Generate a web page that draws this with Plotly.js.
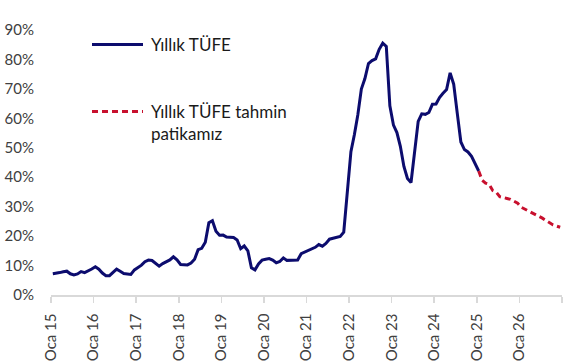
<!DOCTYPE html>
<html>
<head>
<meta charset="utf-8">
<script src="https://cdn.plot.ly/plotly-3.0.1.min.js"></script>
<style>html,body{margin:0;padding:0;background:#fff;}#chart{width:574px;height:363px;}</style>
</head>
<body>
<div id="chart"></div>
<script>
// Yıllık TÜFE (%), aylık: Oca 2015 – Oca 2025
const actualStart = [2015, 1];
const actualValues = [
  7.24, 7.55, 7.61, 7.91, 8.09, 7.20, 6.81, 7.14, 7.95, 7.58, 8.10, 8.81,
  9.58, 8.78, 7.46, 6.57, 6.58, 7.64, 8.79, 8.05, 7.28, 7.16, 7.00, 8.53,
  9.22, 10.13, 11.29, 11.87, 11.72, 10.90, 9.79, 10.68, 11.20, 11.90, 12.98, 11.92,
  10.35, 10.26, 10.23, 10.85, 12.15, 15.39, 15.85, 17.90, 24.52, 25.24, 21.62, 20.30,
  20.35, 19.67, 19.71, 19.50, 18.71, 15.72, 16.65, 15.01, 9.26, 8.55, 10.56, 11.84,
  12.15, 12.37, 11.86, 10.94, 11.39, 12.62, 11.76, 11.77, 11.75, 11.89, 14.03, 14.60,
  14.97, 15.61, 16.19, 17.14, 16.59, 17.53, 18.95, 19.25, 19.58, 19.89, 21.31, 36.08,
  48.69, 54.44, 61.14, 69.97, 73.50, 78.62, 79.60, 80.21, 83.45, 85.51, 84.39, 64.27,
  57.68, 55.18, 50.51, 43.68, 39.59, 38.21, 47.83, 58.94, 61.53, 61.36, 61.98, 64.77,
  64.86, 67.07, 68.50, 69.80, 75.45, 71.60, 61.78, 51.97, 49.38, 48.58, 47.09, 44.38,
  42.12
];
// Yıllık TÜFE tahmin patikamız (%): Oca 2025 – Ara 2026
const forecastStart = [2025, 1];
const forecastValues = [
  42.12, 39.0, 38.0, 37.6, 35.5, 34.9, 33.4, 33.0, 32.8, 32.5, 31.8, 31.2,
  29.8, 29.2, 28.6, 28.0, 27.5, 26.8, 26.1, 25.3, 24.5, 23.8, 23.4, 23.0
];
const tickYears = [15, 16, 17, 18, 19, 20, 21, 22, 23, 24, 25, 26, 27];
const tickLabels = ["Oca 15", "Oca 16", "Oca 17", "Oca 18", "Oca 19", "Oca 20",
  "Oca 21", "Oca 22", "Oca 23", "Oca 24", "Oca 25", "Oca 26", ""];
const yTicks = [0, 10, 20, 30, 40, 50, 60, 70, 80, 90];
const seriesNames = ["Yıllık TÜFE", "Yıllık TÜFE tahmin<br>patikamız"];

function months(start, n) {
  const out = [];
  let y = start[0], m = start[1];
  for (let i = 0; i < n; i++) {
    out.push(y + "-" + String(m).padStart(2, "0") + "-01");
    m++; if (m > 12) { m = 1; y++; }
  }
  return out;
}

const navy = "#0c0c6e";
const red = "#c8102e";
const font = "Lato, 'Open Sans', sans-serif";

const traces = [
  {
    x: months(actualStart, actualValues.length), y: actualValues,
    type: "scatter", mode: "lines", name: seriesNames[0],
    xperiod: "M1", xperiodalignment: "middle",
    line: {color: navy, width: 3, shape: "linear"}, showlegend: false
  },
  {
    x: months(forecastStart, forecastValues.length), y: forecastValues,
    type: "scatter", mode: "lines", name: seriesNames[1],
    xperiod: "M1", xperiodalignment: "middle",
    line: {color: red, width: 3, dash: "6px,4px"}, showlegend: false
  }
];

// plot area: x 51..562, y 30..295
const px = v => (v - 51) / 511;
const py = v => (295 - v) / 265;

const layout = {
  width: 574, height: 363,
  margin: {l: 51, r: 12, t: 30, b: 68},
  paper_bgcolor: "#fff", plot_bgcolor: "#fff",
  font: {family: font, color: "#404040", size: 15},
  xaxis: {
    type: "date",
    range: ["2015-01-01", "2027-01-01"],
    tickmode: "array",
    tickvals: tickYears.map(y => "20" + y + "-01-01"),
    ticktext: tickLabels,
    tickangle: -90,
    ticks: "outside", ticklen: 6, tickcolor: "#d9d9d9", tickwidth: 1.5,
    ticklabelstandoff: 5,
    showline: true, linecolor: "#d9d9d9", linewidth: 1.5,
    showgrid: false, zeroline: false,
    tickfont: {size: 15, color: "#404040", family: font}
  },
  yaxis: {
    range: [0, 90],
    tickmode: "array", tickvals: yTicks,
    ticktext: yTicks.map(v => v + "%"),
    showgrid: false, zeroline: false, showline: false, ticks: "",
    ticklabelstandoff: 16,
    tickfont: {size: 15, color: "#404040", family: font}
  },
  showlegend: false,
  shapes: [
    {type: "line", xref: "paper", yref: "paper", x0: px(92), x1: px(143), y0: py(44.5), y1: py(44.5),
     line: {color: navy, width: 3}},
    {type: "line", xref: "paper", yref: "paper", x0: px(92), x1: px(143), y0: py(111.5), y1: py(111.5),
     line: {color: red, width: 3, dash: "6px,4px"}}
  ],
  annotations: [
    {xref: "paper", yref: "paper", x: px(149), y: py(44.5), xanchor: "left", yanchor: "middle",
     text: seriesNames[0], showarrow: false, align: "left",
     font: {size: 17, color: "#1a1a1a", family: font}},
    {xref: "paper", yref: "paper", x: px(149), y: py(99), xanchor: "left", yanchor: "top",
     text: seriesNames[1], showarrow: false, align: "left",
     font: {size: 17, color: "#1a1a1a", family: font}}
  ]
};

Plotly.newPlot("chart", traces, layout, {displayModeBar: false, staticPlot: true});
</script>
</body>
</html>
